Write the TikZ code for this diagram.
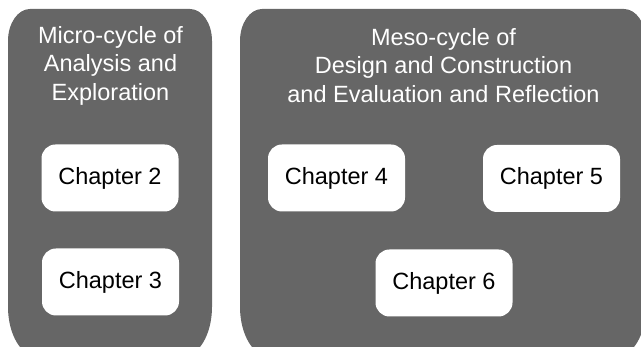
\documentclass[tikz,border=0pt]{standalone}
\usepackage{fontspec}
\setmainfont{Liberation Sans}
\definecolor{panelgray}{HTML}{666666}
\begin{document}
\begin{tikzpicture}[x=1pt,y=1pt,
  panel/.style={fill=panelgray},
  chapter/.style={fill=white, rounded corners=14pt, minimum width=137pt,
    minimum height=67pt, inner sep=0pt, text=black,
    font=\fontsize{23.5}{28.5}\selectfont},
  paneltitle/.style={align=center, text=white, inner sep=0pt,
    font=\fontsize{23.5}{28.5}\selectfont}]
\useasboundingbox (0,0) rectangle (641,347);
\clip (0,0) rectangle (641,347);
% left panel
\fill[panel] (8,40) -- (8,306)
  arc[start angle=180,end angle=90,x radius=22,y radius=32] -- (190,338)
  arc[start angle=90,end angle=0,x radius=22,y radius=32] -- (212,40)
  arc[start angle=0,end angle=-90,x radius=30,y radius=50] -- (38,-10)
  arc[start angle=270,end angle=180,x radius=30,y radius=50] -- cycle;
% right panel
\fill[panel] (240,40) -- (240,306)
  arc[start angle=180,end angle=90,x radius=22,y radius=32] -- (624,338)
  arc[start angle=90,end angle=0,x radius=22,y radius=32] -- (646,40)
  arc[start angle=0,end angle=-90,x radius=30,y radius=50] -- (270,-10)
  arc[start angle=270,end angle=180,x radius=30,y radius=50] -- cycle;
% titles
\node[paneltitle] (micro) at (110.5,281.5) {Micro-cycle of\\Analysis and\\Exploration};
\node[paneltitle] (meso) at (443.5,281.5) {Meso-cycle of\\Design and Construction\\and Evaluation and Reflection};
% chapters
\node[chapter] (ch2) at (110,169) {Chapter 2};
\node[chapter] (ch3) at (110.5,65) {Chapter 3};
\node[chapter] (ch4) at (336.5,169) {Chapter 4};
\node[chapter] (ch5) at (551.5,168.5) {Chapter 5};
\node[chapter] (ch6) at (444,64) {Chapter 6};
\end{tikzpicture}
\end{document}
